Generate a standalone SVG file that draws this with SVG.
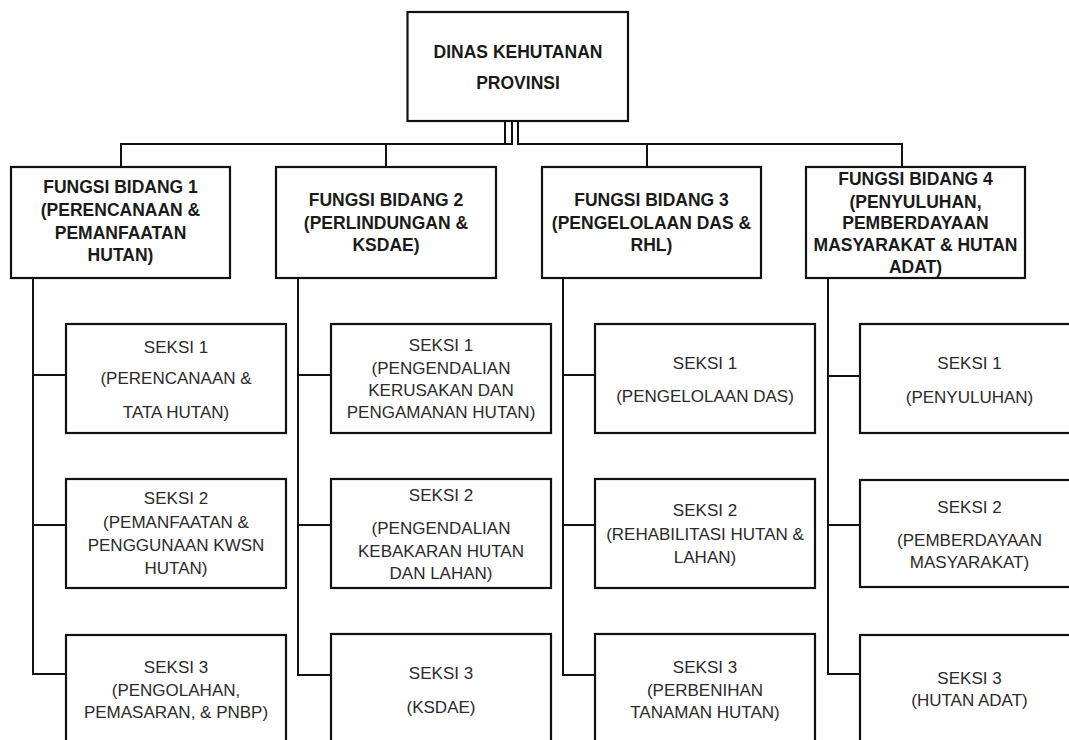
<svg xmlns="http://www.w3.org/2000/svg" width="1069" height="740" viewBox="0 0 1069 740">
  <style>
    .box { fill: #ffffff; stroke: #111111; stroke-width: 2.2; }
    .wire { fill: none; stroke: #111111; stroke-width: 2; }
    .head { font-family: "Liberation Sans", Arial, sans-serif; font-weight: bold; font-size: 17.5px; fill: #1a1a1a; text-anchor: middle; }
    .sub { font-family: "Liberation Sans", Arial, sans-serif; font-size: 17px; fill: #2a2a2a; text-anchor: middle; }
  </style>
  <rect width="1069" height="740" fill="#ffffff"/>

  <!-- connectors -->
  <g id="connectors">
    <!-- top bus -->
    <polyline class="wire" points="121,167 121,144 512,144 512,121"/>
    <line class="wire" x1="505" y1="121" x2="505" y2="144"/>
    <polyline class="wire" points="518,121 518,144 902,144 902,167"/>
    <line class="wire" x1="386" y1="144" x2="386" y2="167"/>
    <line class="wire" x1="647" y1="144" x2="647" y2="167"/>
    <!-- column 1 -->
    <polyline class="wire" points="33,278 33,674 66,674"/>
    <line class="wire" x1="33" y1="375" x2="66" y2="375"/>
    <line class="wire" x1="33" y1="525" x2="66" y2="525"/>
    <!-- column 2 -->
    <polyline class="wire" points="298,278 298,675 331,675"/>
    <line class="wire" x1="298" y1="375" x2="331" y2="375"/>
    <line class="wire" x1="298" y1="525" x2="331" y2="525"/>
    <!-- column 3 -->
    <polyline class="wire" points="563,278 563,675 595,675"/>
    <line class="wire" x1="563" y1="375" x2="595" y2="375"/>
    <line class="wire" x1="563" y1="525" x2="595" y2="525"/>
    <!-- column 4 -->
    <polyline class="wire" points="828,278 828,674 860,674"/>
    <line class="wire" x1="828" y1="376" x2="860" y2="376"/>
    <line class="wire" x1="828" y1="525" x2="860" y2="525"/>
  </g>

  <!-- head office -->
  <g id="dinas">
    <rect class="box" x="407.5" y="12" width="220.5" height="109"/>
    <text class="head" x="518" y="58">DINAS KEHUTANAN</text>
    <text class="head" x="518" y="89">PROVINSI</text>
  </g>

  <!-- divisions -->
  <g id="bidang1">
    <rect class="box" x="11" y="167" width="219" height="111"/>
    <text class="head" x="120.5" y="193">FUNGSI BIDANG 1</text>
    <text class="head" x="120.5" y="216">(PERENCANAAN &amp;</text>
    <text class="head" x="120.5" y="239">PEMANFAATAN</text>
    <text class="head" x="120.5" y="261">HUTAN)</text>
  </g>
  <g id="bidang2">
    <rect class="box" x="276" y="167" width="220" height="111"/>
    <text class="head" x="386" y="206">FUNGSI BIDANG 2</text>
    <text class="head" x="386" y="229">(PERLINDUNGAN &amp;</text>
    <text class="head" x="386" y="251">KSDAE)</text>
  </g>
  <g id="bidang3">
    <rect class="box" x="542" y="167" width="219" height="111"/>
    <text class="head" x="651.5" y="206">FUNGSI BIDANG 3</text>
    <text class="head" x="651.5" y="229">(PENGELOLAAN DAS &amp;</text>
    <text class="head" x="651.5" y="251">RHL)</text>
  </g>
  <g id="bidang4">
    <rect class="box" x="806" y="167" width="219" height="111"/>
    <text class="head" x="915.5" y="185">FUNGSI BIDANG 4</text>
    <text class="head" x="915.5" y="208">(PENYULUHAN,</text>
    <text class="head" x="915.5" y="229">PEMBERDAYAAN</text>
    <text class="head" x="915.5" y="251">MASYARAKAT &amp; HUTAN</text>
    <text class="head" x="915.5" y="273">ADAT)</text>
  </g>

  <!-- sections, column 1 -->
  <g id="b1-seksi1">
    <rect class="box" x="66" y="324" width="220" height="109"/>
    <text class="sub" x="176" y="353">SEKSI 1</text>
    <text class="sub" x="176" y="384">(PERENCANAAN &amp;</text>
    <text class="sub" x="176" y="418">TATA HUTAN)</text>
  </g>
  <g id="b1-seksi2">
    <rect class="box" x="66" y="479" width="220" height="109"/>
    <text class="sub" x="176" y="504">SEKSI 2</text>
    <text class="sub" x="176" y="528">(PEMANFAATAN &amp;</text>
    <text class="sub" x="176" y="551">PENGGUNAAN KWSN</text>
    <text class="sub" x="176" y="574">HUTAN)</text>
  </g>
  <g id="b1-seksi3">
    <rect class="box" x="66" y="635" width="220" height="130"/>
    <text class="sub" x="176" y="673">SEKSI 3</text>
    <text class="sub" x="176" y="696">(PENGOLAHAN,</text>
    <text class="sub" x="176" y="718">PEMASARAN, &amp; PNBP)</text>
  </g>

  <!-- sections, column 2 -->
  <g id="b2-seksi1">
    <rect class="box" x="331" y="324" width="220" height="109"/>
    <text class="sub" x="441" y="351">SEKSI 1</text>
    <text class="sub" x="441" y="374">(PENGENDALIAN</text>
    <text class="sub" x="441" y="396">KERUSAKAN DAN</text>
    <text class="sub" x="441" y="418">PENGAMANAN HUTAN)</text>
  </g>
  <g id="b2-seksi2">
    <rect class="box" x="331" y="479" width="220" height="109"/>
    <text class="sub" x="441" y="501">SEKSI 2</text>
    <text class="sub" x="441" y="534">(PENGENDALIAN</text>
    <text class="sub" x="441" y="557">KEBAKARAN HUTAN</text>
    <text class="sub" x="441" y="579">DAN LAHAN)</text>
  </g>
  <g id="b2-seksi3">
    <rect class="box" x="331" y="634" width="220" height="130"/>
    <text class="sub" x="441" y="679">SEKSI 3</text>
    <text class="sub" x="441" y="713">(KSDAE)</text>
  </g>

  <!-- sections, column 3 -->
  <g id="b3-seksi1">
    <rect class="box" x="595" y="324" width="220" height="109"/>
    <text class="sub" x="705" y="369">SEKSI 1</text>
    <text class="sub" x="705" y="402">(PENGELOLAAN DAS)</text>
  </g>
  <g id="b3-seksi2">
    <rect class="box" x="595" y="479" width="220" height="109"/>
    <text class="sub" x="705" y="516">SEKSI 2</text>
    <text class="sub" x="705" y="540">(REHABILITASI HUTAN &amp;</text>
    <text class="sub" x="705" y="563">LAHAN)</text>
  </g>
  <g id="b3-seksi3">
    <rect class="box" x="595" y="634" width="220" height="130"/>
    <text class="sub" x="705" y="673">SEKSI 3</text>
    <text class="sub" x="705" y="696">(PERBENIHAN</text>
    <text class="sub" x="705" y="718">TANAMAN HUTAN)</text>
  </g>

  <!-- sections, column 4 -->
  <g id="b4-seksi1">
    <rect class="box" x="860" y="324" width="219" height="109"/>
    <text class="sub" x="969.5" y="369">SEKSI 1</text>
    <text class="sub" x="969.5" y="403">(PENYULUHAN)</text>
  </g>
  <g id="b4-seksi2">
    <rect class="box" x="860" y="480" width="219" height="107"/>
    <text class="sub" x="969.5" y="513">SEKSI 2</text>
    <text class="sub" x="969.5" y="546">(PEMBERDAYAAN</text>
    <text class="sub" x="969.5" y="568">MASYARAKAT)</text>
  </g>
  <g id="b4-seksi3">
    <rect class="box" x="860" y="635" width="219" height="130"/>
    <text class="sub" x="969.5" y="684">SEKSI 3</text>
    <text class="sub" x="969.5" y="706">(HUTAN ADAT)</text>
  </g>
</svg>
